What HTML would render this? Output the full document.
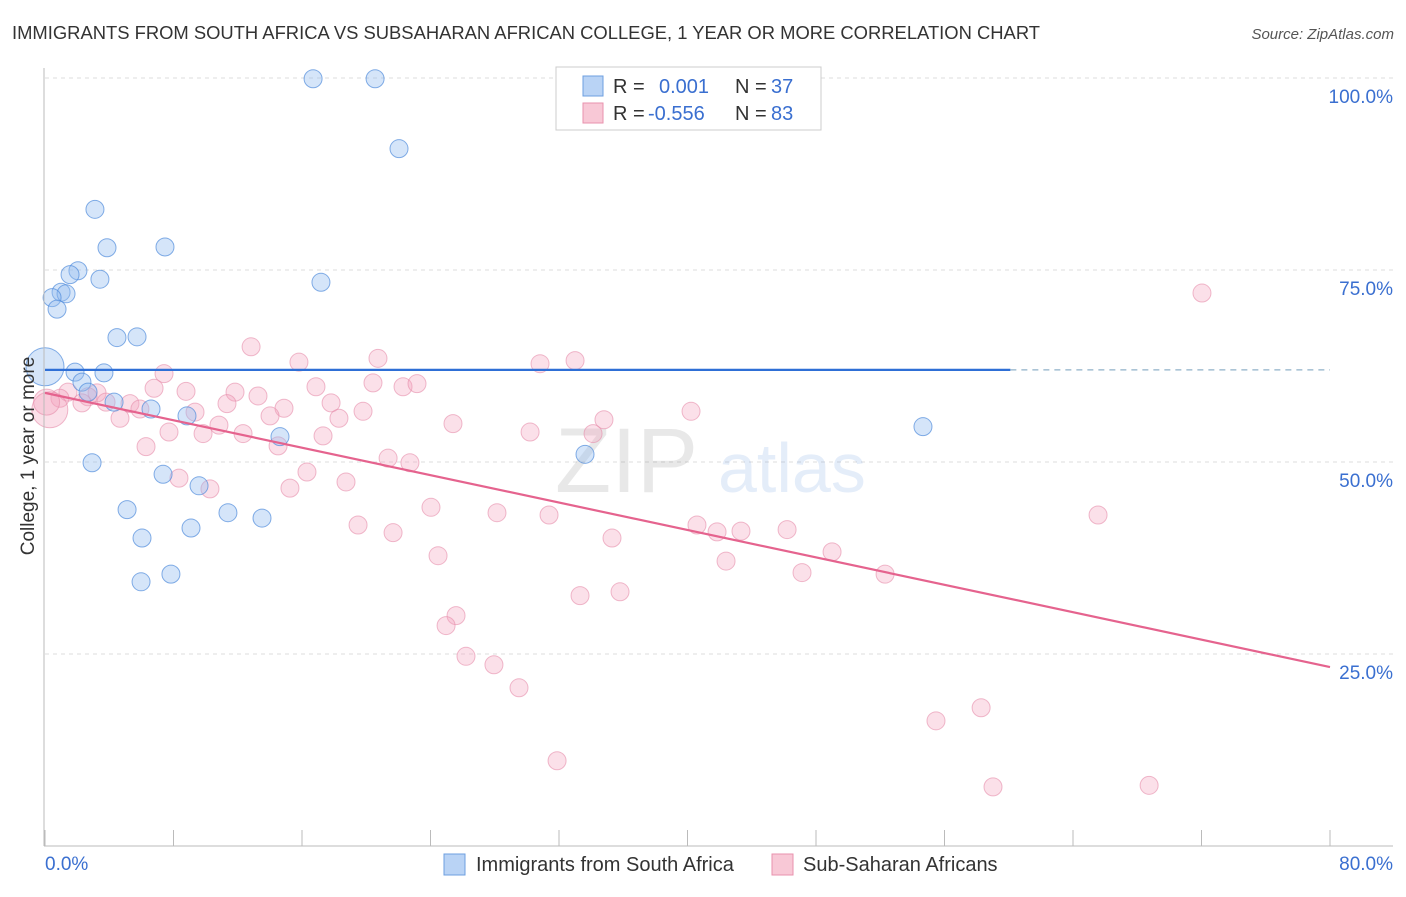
<!DOCTYPE html>
<html><head><meta charset="utf-8"><style>
body{margin:0;background:#fff;font-family:"Liberation Sans",sans-serif}
svg text{font-family:"Liberation Sans",sans-serif}
</style></head><body>
<svg id="chart" width="1406" height="892" viewBox="0 0 1406 892" xmlns="http://www.w3.org/2000/svg">
<text x="12" y="39" font-size="18.4" fill="#333">IMMIGRANTS FROM SOUTH AFRICA VS SUBSAHARAN AFRICAN COLLEGE, 1 YEAR OR MORE CORRELATION CHART</text>
<text x="1394" y="39" font-size="15" fill="#555" text-anchor="end" font-style="italic">Source: ZipAtlas.com</text>
<g id="grid"></g>
<g opacity="0.13">
<text x="555" y="492" font-size="92" font-family="Liberation Serif" fill="#555">ZIP</text>
<text x="718" y="492" font-size="70" fill="#3a78d8">atlas</text>
</g>
<g id="pts-pink"></g>
<g id="pts-blue"></g>
<g id="trends"></g>
<g id="axes"></g>
<text transform="translate(34,456) rotate(-90)" font-size="19" fill="#333" text-anchor="middle">College, 1 year or more</text>
<g>
<rect x="556" y="67" width="265" height="63" fill="#fff" stroke="#ccc"/>
<rect x="583" y="76" width="20" height="20" fill="#b9d3f5" stroke="#6d9fe0"/>
<rect x="583" y="103" width="20" height="20" fill="#f8c8d6" stroke="#e892ad"/>
<text font-size="20" fill="#333"><tspan x="613" y="93">R =</tspan><tspan x="659" y="93" fill="#3a6fd0">0.001</tspan><tspan x="735" y="93">N =</tspan><tspan x="771" y="93" fill="#3a6fd0">37</tspan></text>
<text font-size="20" fill="#333"><tspan x="613" y="120">R =</tspan><tspan x="648" y="120" fill="#3a6fd0">-0.556</tspan><tspan x="735" y="120">N =</tspan><tspan x="771" y="120" fill="#3a6fd0">83</tspan></text>
</g>
<g>
<rect x="444" y="854" width="21" height="21" fill="#b9d3f5" stroke="#6d9fe0"/>
<text x="476" y="871" font-size="20" fill="#333">Immigrants from South Africa</text>
<rect x="772" y="854" width="21" height="21" fill="#f8c8d6" stroke="#e892ad"/>
<text x="803" y="871" font-size="20" fill="#333">Sub-Saharan Africans</text>
</g>
</svg>
<script>
const blueX=[16.69,20.55,22.04,3.11,3.86,7.47,2.05,1.56,3.42,17.18,1.0,1.31,0.44,0.75,4.48,5.73,0,1.87,3.67,2.30,2.68,4.30,6.60,8.84,14.63,33.62,54.66,2.93,7.35,9.59,5.11,11.39,13.51,9.09,6.04,7.84,5.98];
const blueY=[99.9,99.9,90.8,82.9,77.9,78.0,74.9,74.4,73.8,73.4,72.1,71.9,71.4,69.9,66.2,66.3,62.4,61.7,61.6,60.4,59.1,57.8,56.9,56.0,53.3,51.0,54.6,49.9,48.4,46.9,43.8,43.4,42.7,41.4,40.1,35.4,34.4];
const pinkX=[72.03,12.83,20.73,33.0,30.82,15.81,7.41,20.42,22.29,23.16,6.79,8.78,11.83,13.26,16.87,3.24,2.68,1.43,0.93,2.30,3.80,5.29,5.91,4.67,17.81,19.80,9.34,11.33,14.88,14.01,18.30,34.80,40.22,25.40,30.20,34.12,10.83,7.72,9.84,12.33,17.31,14.51,6.29,21.36,22.72,16.31,8.34,18.74,15.25,10.27,24.03,28.14,31.38,65.56,19.49,40.59,41.84,43.33,46.20,21.67,35.30,49.0,24.47,42.40,47.13,52.30,25.59,24.97,35.80,33.31,26.21,27.95,29.51,58.28,55.47,31.88,59.02,68.74,0.3,0.1];
const pinkY=[72.0,65.0,63.5,63.2,62.8,63.0,61.5,60.3,59.8,60.2,59.6,59.2,59.1,58.6,59.8,59.0,58.5,59.1,58.3,57.7,57.8,57.6,56.9,55.7,57.7,56.6,56.5,57.6,57.0,56.0,55.7,55.5,56.6,55.0,53.9,53.7,54.8,53.9,53.7,53.7,53.4,52.1,52.0,50.5,49.9,48.7,47.9,47.4,46.6,46.5,44.1,43.4,43.1,43.1,41.8,41.8,40.9,41.0,41.2,40.8,40.1,38.3,37.8,37.1,35.6,35.4,30.0,28.7,33.1,32.6,24.7,23.6,20.6,18.0,16.3,11.1,7.7,7.9,56.8,57.8];
const blueTrend=[62.0,62.0];
const pinkTrend=[59.0,23.3];
const yTicks=[25,50,75,100];
const yTickLabels=["25.0%","50.0%","75.0%","100.0%"];
const xTicks=[0,8,16,24,32,40,48,56,64,72,80];

const NS="http://www.w3.org/2000/svg";
const X=v=>45+v/80*1285;
const Y=v=>846-v*7.68;
function mk(tag,attrs,parent){const e=document.createElementNS(NS,tag);for(const k in attrs)e.setAttribute(k,attrs[k]);parent.appendChild(e);return e;}
const grid=document.getElementById('grid');
yTicks.forEach((t,i)=>{
 const l=mk('line',{x1:45,x2:1393,y1:Y(t),y2:Y(t),stroke:'#ddd','stroke-dasharray':'4,4'},grid);
 
 
 const tx=mk('text',{x:1393,y:Y(t)+25,'font-size':19,fill:'#3a6fd0','text-anchor':'end'},grid);
 tx.textContent=yTickLabels[i];
 
 
});
const axes=document.getElementById('axes');
mk('line',{x1:44,x2:44,y1:68,y2:846,stroke:'#bbb'},axes);
mk('line',{x1:44,x2:1393,y1:846,y2:846,stroke:'#bbb'},axes);
xTicks.forEach(t=>{
 const l=mk('line',{x1:X(t),x2:X(t),y1:830,y2:846,stroke:'#bbb'},axes);
 
 
});
const xl0=mk('text',{x:45,y:870,'font-size':19,fill:'#3a6fd0'},axes);xl0.textContent='0.0%';


const xl1=mk('text',{x:1393,y:870,'font-size':19,fill:'#3a6fd0','text-anchor':'end'},axes);xl1.textContent='80.0%';



const gp=document.getElementById('pts-pink');
pinkX.forEach((x,i)=>{
 const r=i>=pinkX.length-2?(i==pinkX.length-2?18:13):9;
 const c=mk('circle',{cx:X(x),cy:Y(pinkY[i]),r:r,fill:'rgba(244,160,188,0.33)',stroke:'rgba(230,140,170,0.6)','stroke-width':1},gp);
 
 
});
const gb=document.getElementById('pts-blue');
blueX.forEach((x,i)=>{
 const r=i==16?19:9;
 const c=mk('circle',{cx:X(x),cy:Y(blueY[i]),r:r,fill:'rgba(150,190,240,0.4)',stroke:'rgba(80,140,220,0.7)','stroke-width':1},gb);
 
 
});
const tr=document.getElementById('trends');
const bx=60.1;
const b1=mk('line',{x1:X(0),x2:X(bx),y1:Y(blueTrend[0]),y2:Y(blueTrend[0]+(blueTrend[1]-blueTrend[0])*bx/80),stroke:'#2e6fd6','stroke-width':2.2},tr);


const b2=mk('line',{x1:X(bx),x2:X(80),y1:Y(blueTrend[0]+(blueTrend[1]-blueTrend[0])*bx/80),y2:Y(blueTrend[1]),stroke:'#8fb0c8','stroke-width':1.2,'stroke-dasharray':'6,5'},tr);


const p1=mk('line',{x1:X(0),x2:X(80),y1:Y(pinkTrend[0]),y2:Y(pinkTrend[1]),stroke:'#e5638e','stroke-width':2.2},tr);


</script>
</body></html>
